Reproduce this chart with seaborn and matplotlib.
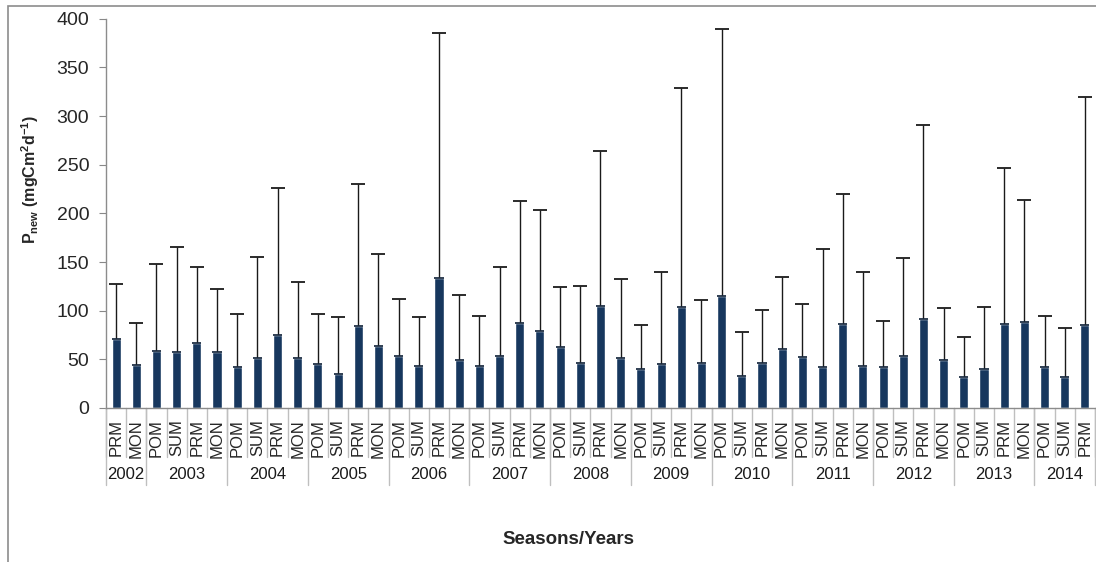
import numpy as np
import pandas as pd
import matplotlib
matplotlib.use('Agg')
import matplotlib.pyplot as plt
import seaborn as sns
from matplotlib.patches import Rectangle

# seasons per year, as on the x axis
years = ['2002', '2003', '2004', '2005', '2006', '2007', '2008',
         '2009', '2010', '2011', '2012', '2013', '2014']
year_seasons = [
    ['PRM', 'MON'],
    ['POM', 'SUM', 'PRM', 'MON'],
    ['POM', 'SUM', 'PRM', 'MON'],
    ['POM', 'SUM', 'PRM', 'MON'],
    ['POM', 'SUM', 'PRM', 'MON'],
    ['POM', 'SUM', 'PRM', 'MON'],
    ['POM', 'SUM', 'PRM', 'MON'],
    ['POM', 'SUM', 'PRM', 'MON'],
    ['POM', 'SUM', 'PRM', 'MON'],
    ['POM', 'SUM', 'PRM', 'MON'],
    ['POM', 'SUM', 'PRM', 'MON'],
    ['POM', 'SUM', 'PRM', 'MON'],
    ['POM', 'SUM', 'PRM'],
]

# mean P_new (mgC m-2 d-1)
p_new = [71, 44,
         59, 58, 66.5, 57.5,
         42, 51.5, 74.5, 51,
         45.5, 34.5, 84, 64,
         53, 43.5, 134, 49,
         43.5, 53, 87, 79,
         62.5, 46.5, 105, 51,
         40, 45.5, 103.5, 46.5,
         115, 33, 46, 61,
         52, 42.5, 86.5, 43,
         42, 53, 91, 49.5,
         32, 40.5, 86.5, 88,
         42, 31.5, 85.5]

# top of the error bar (mean + sd)
p_new_top = [127.5, 87.5,
             148, 165, 144.5, 122.5,
             97, 155, 226, 129.5,
             97, 94, 230.5, 158.5,
             112, 94, 385, 116.5,
             95, 145, 212.5, 203.5,
             124.5, 125.5, 264, 133,
             85, 140, 328.5, 111,
             389.5, 78.5, 101, 135,
             107, 163.5, 220, 140,
             89, 154.5, 290.5, 103,
             72.5, 104, 246.5, 214,
             95, 82.5, 319.5]

slots, season_labels = [], []
for yr, seasons in zip(years, year_seasons):
    for s in seasons:
        slots.append(f'{yr}-{s}')
        season_labels.append(s)

df = pd.DataFrame({'slot': slots, 'season': season_labels,
                   'value': p_new, 'top': p_new_top})
df['sd'] = df['top'] - df['value']

sns.set_style('white')
plt.rcParams['font.family'] = ['Liberation Sans', 'DejaVu Sans']
plt.rcParams['mathtext.fontset'] = 'custom'
plt.rcParams['mathtext.rm'] = 'Liberation Sans'
plt.rcParams['mathtext.bf'] = 'Liberation Sans:bold'

fig = plt.figure(figsize=(10.96, 5.62), dpi=100)
ax = fig.add_axes([106 / 1096, 154 / 562, 989 / 1096, 389.3 / 562])

bar_color = '#17375E'
sns.barplot(data=df, x='slot', y='value', order=slots, color=bar_color,
            width=0.45, saturation=1, ax=ax, zorder=2)

# upper error bars only (cap at the top end)
xpos = np.arange(len(df))
_, caps, _ = ax.errorbar(xpos, df['value'], yerr=[np.zeros(len(df)), df['sd']],
                         fmt='none', ecolor='#1a1a1a', elinewidth=1.0,
                         capsize=5, capthick=1.3, zorder=1)
caps[0].set_visible(False)
ax.hlines(df['value'], xpos - 0.225, xpos + 0.225, color='#0d1f36',
          lw=1.2, zorder=3)

ax.set_xlim(-0.5, len(df) - 0.5)
ax.set_ylim(0, 400)
ax.set_yticks(range(0, 401, 50))
ax.tick_params(axis='y', labelsize=14, length=5, color='#888888',
               direction='out', left=True, pad=7)
ax.set_xticks(xpos)
ax.set_xticklabels(season_labels, rotation=90, fontsize=12)
ax.tick_params(axis='x', length=0, pad=8)
ax.set_xlabel('')

for sp in ['top', 'right']:
    ax.spines[sp].set_visible(False)
for sp in ['left', 'bottom']:
    ax.spines[sp].set_color('#8c8c8c')
    ax.spines[sp].set_linewidth(1.0)

ax.set_ylabel(r'$\mathbf{P_{new}}$ (mgCm$^{\mathbf{2}}$d$^{\mathbf{-1}}$)',
              fontsize=11.5, fontweight='bold')
ax.yaxis.set_label_coords(-0.066, 0.586)

# two-level category separators
trans = ax.get_xaxis_transform()
year_edges = np.cumsum([0] + [len(s) for s in year_seasons]) - 0.5
for b in np.arange(len(df) + 1) - 0.5:
    ax.plot([b, b], [0, -0.126], transform=trans, color='#bfbfbf',
            lw=1.0, clip_on=False)
for b in year_edges:
    ax.plot([b, b], [0, -0.198], transform=trans, color='#bfbfbf',
            lw=1.0, clip_on=False)
for yr, lo, hi in zip(years, year_edges[:-1], year_edges[1:]):
    ax.text((lo + hi) / 2, -0.172, yr, transform=trans, ha='center',
            va='center', fontsize=12, color='#1a1a1a')

fig.text(568 / 1096, 1 - 540 / 562, 'Seasons/Years', ha='center',
         va='center', fontsize=13.5, fontweight='bold')

# outer chart frame
fig.patches.append(Rectangle((8 / 1096, -0.01), 1.1, 1 - 6 / 562 + 0.01,
                             transform=fig.transFigure, fill=False,
                             edgecolor='#8c8c8c', lw=1.2))

fig.savefig('out.png', dpi=100)
